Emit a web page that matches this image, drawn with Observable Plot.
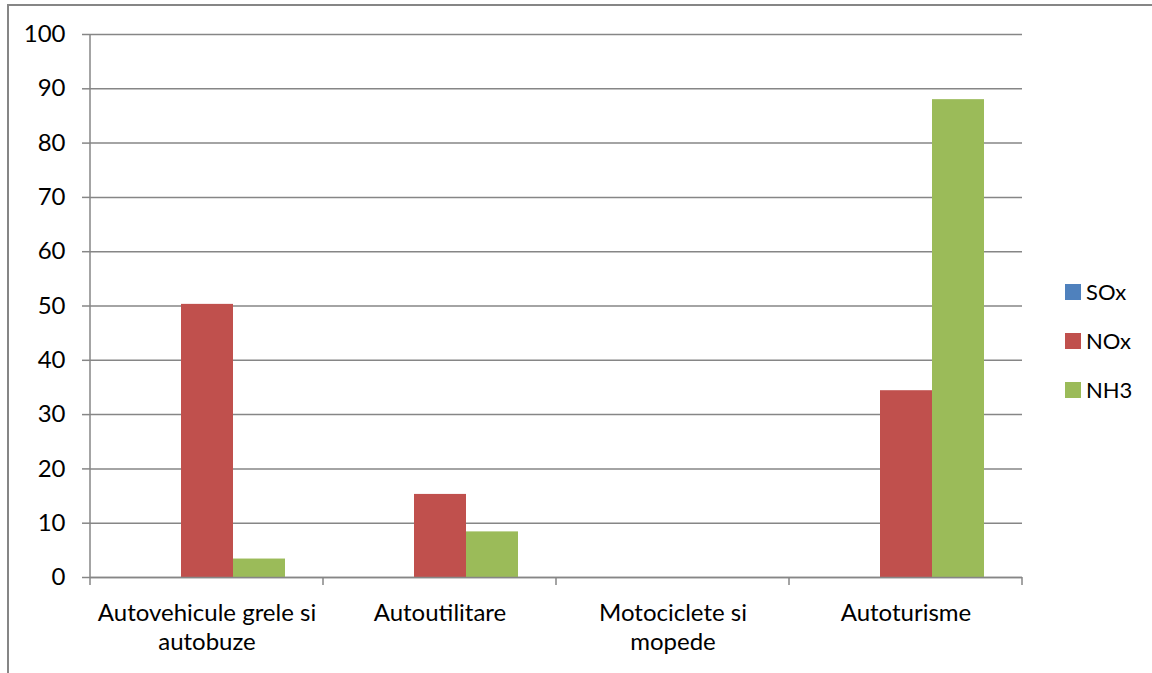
<!DOCTYPE html>
<html>
<head>
<meta charset="utf-8">
<script src="https://cdn.jsdelivr.net/npm/d3@7"></script>
<script src="https://cdn.jsdelivr.net/npm/@observablehq/plot@0.6"></script>
<style>
  html, body { margin: 0; padding: 0; background: #fff; }
  #wrap { position: relative; width: 1152px; height: 673px; overflow: hidden; font-family: Lato, "Open Sans", sans-serif; }
  #border { position: absolute; left: 7px; top: 4px; width: 1200px; height: 720px; border-left: 2px solid #868686; border-top: 2px solid #868686; box-sizing: border-box; }
  #legend { position: absolute; left: 1065px; top: 267px; font-size: 22px; color: #000; }
  #legend .row { display: flex; align-items: center; height: 49px; }
  #legend .sw { width: 16px; height: 16px; margin-right: 5px; }
  svg { position: absolute; left: 0; top: 0; }
</style>
</head>
<body>
<div id="wrap"><div id="border"></div></div>
<script>
const categories = ["Autovehicule grele si autobuze", "Autoutilitare", "Motociclete si mopede", "Autoturisme"];
const categoryLabels = ["Autovehicule grele si\nautobuze", "Autoutilitare", "Motociclete si\nmopede", "Autoturisme"];
const series = ["SOx", "NOx", "NH3"];
const colors = ["#4F81BD", "#C0504D", "#9BBB59"];
const SOx = [0, 0, 0, 0];
const NOx = [50.3, 15.3, 0, 34.4];
const NH3 = [3.4, 8.4, 0, 88.0];
const yTicks = [0, 10, 20, 30, 40, 50, 60, 70, 80, 90, 100];

const valuesBySeries = {SOx, NOx, NH3};
const data = [];
categories.forEach((c, i) => series.forEach(s => data.push({cat: c, series: s, value: valuesBySeries[s][i]})));

const grid = "#868686";
const chart = Plot.plot({
  width: 1152,
  height: 673,
  marginLeft: 90,
  marginRight: 130,
  marginTop: 34,
  marginBottom: 96,
  style: {fontFamily: "Lato, 'Open Sans', sans-serif", fontSize: "24px", background: "transparent", color: "#000"},
  fx: {domain: categories, padding: 0},
  x: {domain: series, paddingInner: 0, paddingOuter: 0.74, axis: null},
  y: {domain: [0, 100]},
  color: {domain: series, range: colors},
  marks: [
    Plot.gridY(yTicks, {stroke: grid, strokeOpacity: 1, strokeWidth: 1.5}),
    Plot.axisY(yTicks, {tickSize: 8, tickPadding: 17, stroke: grid, strokeWidth: 1.5, fontSize: 24, fill: "#000", label: null}),
    Plot.axisFx({anchor: "bottom", tickSize: 0, tickPadding: 23, fontSize: 24, lineHeight: 1.2, fill: "#000", label: null,
      tickFormat: d => categoryLabels[categories.indexOf(d)]}),
    Plot.barY(data, {fx: "cat", x: "series", y: "value", fill: "series", inset: 0}),
    Plot.ruleY([0], {stroke: grid, strokeWidth: 1.5})
  ]
});

// axis lines and between-category ticks drawn from the plot's own scales
const fx = chart.scale("fx");
const y = chart.scale("y");
const svg = d3.select(chart);
const y0 = y.apply(0), y100 = y.apply(100);
const left = fx.apply(categories[0]);
svg.append("line").attr("x1", left).attr("x2", left).attr("y1", y100).attr("y2", y0)
  .attr("stroke", grid).attr("stroke-width", 1.5);
const bounds = categories.map(c => fx.apply(c));
bounds.push(fx.apply(categories[categories.length - 1]) + fx.bandwidth);
bounds.forEach(b => svg.append("line").attr("x1", b).attr("x2", b).attr("y1", y0).attr("y2", y0 + 8)
  .attr("stroke", grid).attr("stroke-width", 1.5));

const wrap = document.getElementById("wrap");
wrap.appendChild(chart);

const legend = document.createElement("div");
legend.id = "legend";
series.forEach((s, i) => {
  const row = document.createElement("div");
  row.className = "row";
  const sw = document.createElement("span");
  sw.className = "sw";
  sw.style.background = colors[i];
  const t = document.createElement("span");
  t.textContent = s;
  row.appendChild(sw); row.appendChild(t);
  legend.appendChild(row);
});
wrap.appendChild(legend);
</script>
</body>
</html>
